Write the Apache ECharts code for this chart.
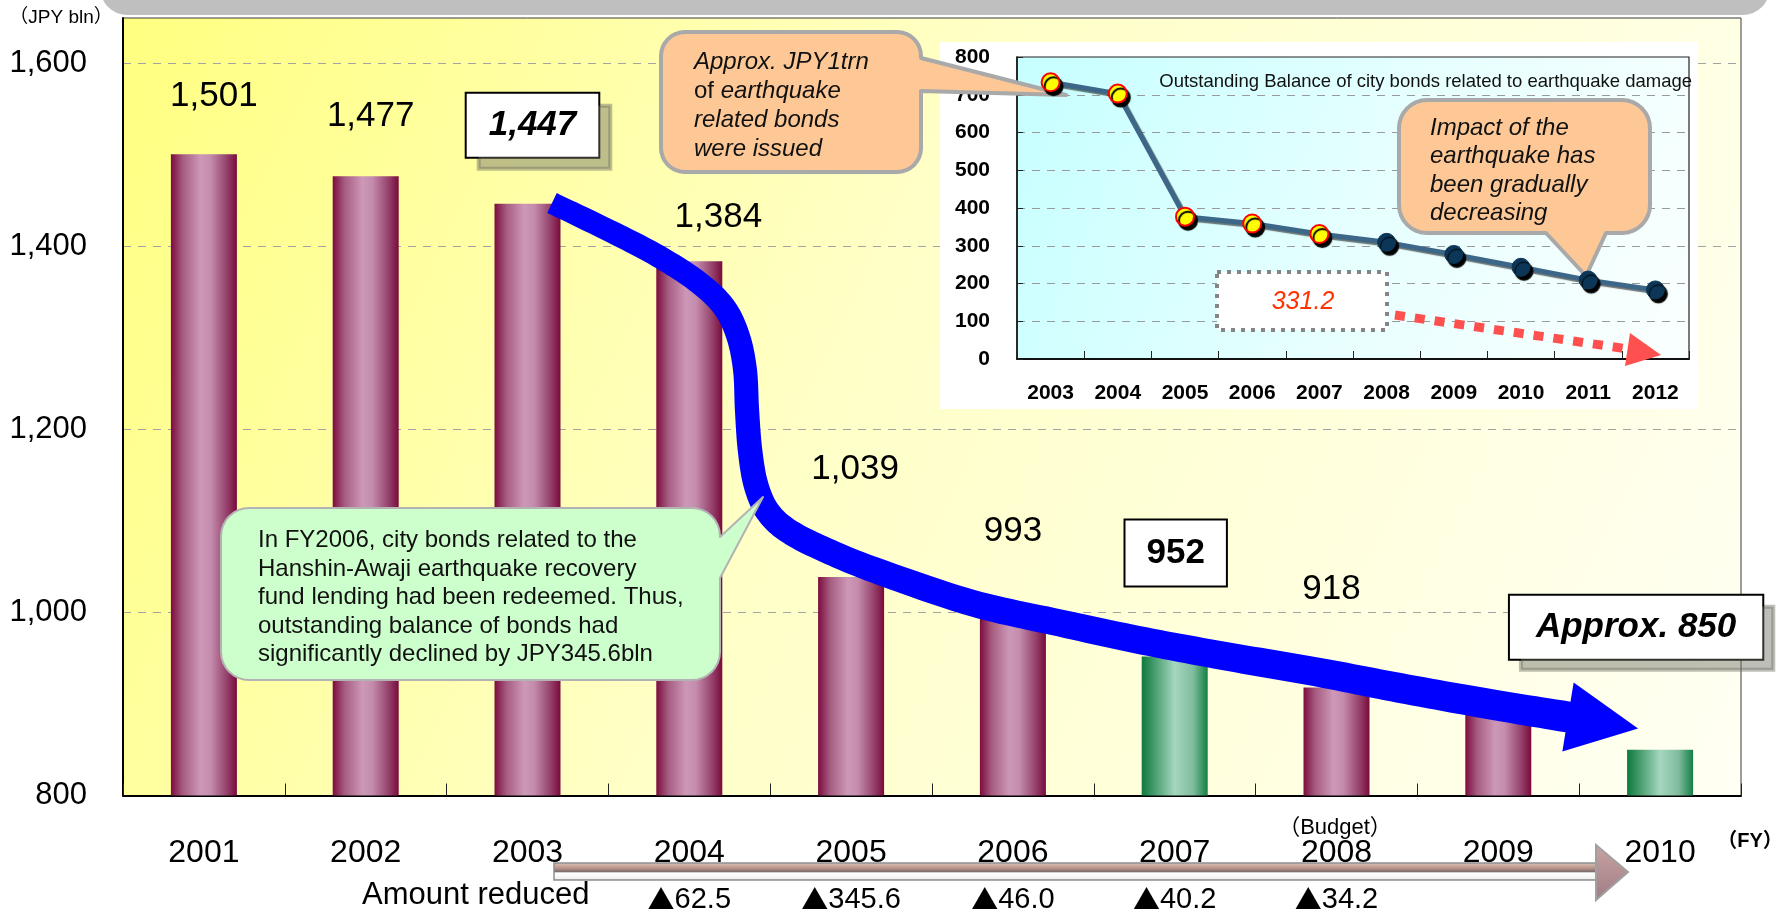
<!DOCTYPE html>
<html>
<head>
<meta charset="utf-8">
<script src="https://cdn.jsdelivr.net/npm/echarts@6/dist/echarts.min.js"></script>
<style>
  html, body { margin: 0; padding: 0; background: #ffffff; }
  #chart { width: 1787px; height: 914px; }
</style>
</head>
<body>
<div id="chart"></div>
<script>
// ---- Data: outstanding balance of city bonds (JPY bln) ----
const years = ['2001', '2002', '2003', '2004', '2005', '2006', '2007', '2008', '2009', '2010'];
const balance = [1501, 1477, 1447, 1384, 1039, 993, 952, 918, 898, 850];
const budgetYears = ['2007', '2010'];          // drawn as green bars
const unlabeledYears = ['2009'];
const reduced = [null, null, null, 62.5, 345.6, 46.0, 40.2, 34.2, null, null];

// ---- Data: outstanding balance of city bonds related to earthquake damage ----
const quakeYears = ['2003', '2004', '2005', '2006', '2007', '2008', '2009', '2010', '2011', '2012'];
const quakeBalance = [733, 703, 377, 359, 331.2, 309, 277, 243, 209, 183];
const quakeActualYears = ['2003', '2004', '2005', '2006', '2007'];   // yellow markers
const quakeNoteYear = '2007';

// ---- Layout / styling ----
const FONT = "'Liberation Sans', Arial, 'Noto Sans CJK JP', sans-serif";
const labelNudge = [[10, -38], [5, -40], [5, -47], [29, -24], [4, -88], [0, -68], [1, -71], [-5, -78], [0, 0], [-24, -91]];
const boxedLabels = { '2003': 'italic', '2007': 'plain', '2010': 'approx' };

const maroon = {
  type: 'linear', x: 0, y: 0, x2: 1, y2: 0,
  colorStops: [
    { offset: 0, color: '#7c0c3e' }, { offset: 0.18, color: '#a65c80' },
    { offset: 0.45, color: '#cd98b7' }, { offset: 0.6, color: '#c48cad' },
    { offset: 0.85, color: '#94406a' }, { offset: 1, color: '#790a3b' }
  ]
};
const green = {
  type: 'linear', x: 0, y: 0, x2: 1, y2: 0,
  colorStops: [
    { offset: 0, color: '#0c7a3d' }, { offset: 0.22, color: '#4fa174' },
    { offset: 0.5, color: '#a4d7bf' }, { offset: 0.78, color: '#7fbc9d' },
    { offset: 1, color: '#157f45' }
  ]
};

function fmt(v) { return v.toLocaleString('en-US'); }

function barLabel(i) {
  const y = years[i];
  if (unlabeledYears.includes(y)) return { show: false };
  const lab = {
    show: true, position: 'top', distance: 0, offset: labelNudge[i],
    fontFamily: FONT, fontSize: 35, lineHeight: 40, color: '#000',
    formatter: p => fmt(p.value)
  };
  const kind = boxedLabels[y];
  if (kind) {
    Object.assign(lab, {
      fontWeight: 'bold', lineHeight: 35, backgroundColor: '#ffffff',
      borderColor: '#000', borderWidth: 2
    });
    if (kind === 'plain') {
      lab.padding = [15, 21];
    } else {
      lab.fontStyle = 'italic';
      lab.padding = [14, 22];
      lab.shadowColor = 'rgba(110,110,100,0.45)';
      lab.shadowOffsetX = 12;
      lab.shadowOffsetY = 12;
      lab.shadowBlur = 0;
    }
    if (kind === 'approx') {
      lab.padding = [14, 26];
      lab.shadowOffsetX = 11;
      lab.shadowOffsetY = 11;
      lab.formatter = p => 'Approx. ' + fmt(p.value);
    }
  }
  return lab;
}

// Rounded speech bubble outline as a polygon
function bubble(x, y, w, h, r, tail) {
  const pts = [];
  const arc = (cx, cy, a0, a1) => {
    for (let k = 0; k <= 8; k++) {
      const a = a0 + (a1 - a0) * k / 8;
      pts.push([cx + r * Math.cos(a), cy + r * Math.sin(a)]);
    }
  };
  const H = Math.PI / 2;
  arc(x + r, y + r, Math.PI, 3 * H);
  arc(x + w - r, y + r, -H, 0);
  if (tail.side === 'right') pts.push([x + w, tail.a], tail.tip, [x + w, tail.b]);
  arc(x + w - r, y + h - r, 0, H);
  if (tail.side === 'bottom') pts.push([tail.b, y + h], tail.tip, [tail.a, y + h]);
  arc(x + r, y + h - r, H, Math.PI);
  return pts;
}

// Thick curved arrow (centerline through control points, widening toward the head)
function thickArrow(ctrl, w0, w1, headLen, headHalf) {
  const s = [];
  for (let i = 0; i < ctrl.length - 1; i++) {
    const p0 = ctrl[Math.max(i - 1, 0)], p1 = ctrl[i], p2 = ctrl[i + 1], p3 = ctrl[Math.min(i + 2, ctrl.length - 1)];
    for (let k = 0; k < 12; k++) {
      const t = k / 12, t2 = t * t, t3 = t2 * t;
      const f = (a, b, c, d) => 0.5 * (2 * b + (-a + c) * t + (2 * a - 5 * b + 4 * c - d) * t2 + (-a + 3 * b - 3 * c + d) * t3);
      s.push([f(p0[0], p1[0], p2[0], p3[0]), f(p0[1], p1[1], p2[1], p3[1])]);
    }
  }
  s.push(ctrl[ctrl.length - 1]);
  const n = s.length, len = [0];
  for (let i = 1; i < n; i++) len.push(len[i - 1] + Math.hypot(s[i][0] - s[i - 1][0], s[i][1] - s[i - 1][1]));
  const total = len[n - 1];
  const up = [], down = [];
  let dir = [1, 0];
  for (let i = 0; i < n; i++) {
    const a = s[Math.max(i - 1, 0)], b = s[Math.min(i + 1, n - 1)];
    let dx = b[0] - a[0], dy = b[1] - a[1];
    const L = Math.hypot(dx, dy) || 1; dx /= L; dy /= L;
    dir = [dx, dy];
    const hw = (w0 + (w1 - w0) * len[i] / total) / 2;
    up.push([s[i][0] + dy * hw, s[i][1] - dx * hw]);
    down.push([s[i][0] - dy * hw, s[i][1] + dx * hw]);
  }
  const e = s[n - 1];
  const head = [
    [e[0] + dir[1] * headHalf, e[1] - dir[0] * headHalf],
    [e[0] + dir[0] * headLen, e[1] + dir[1] * headLen],
    [e[0] - dir[1] * headHalf, e[1] + dir[0] * headHalf]
  ];
  return up.concat(head, down.reverse());
}

const trendPath = [
  [552, 203], [610, 231], [658, 256], [698, 282], [724, 307], [738, 336], [745, 370],
  [747, 410], [750, 450], [756, 485], [768, 512], [790, 532], [830, 552], [880, 572],
  [972, 603], [1060, 623], [1144, 641], [1230, 657], [1317, 672], [1400, 688],
  [1489, 704], [1568, 717]
];

const noteIdx = quakeYears.indexOf(quakeNoteYear);

const graphics = [
  // header band
  { type: 'rect', z: -1, shape: { x: 100, y: -40, width: 1670, height: 55, r: 30 }, style: { fill: '#bfbfbf' } },
  // inset panel backdrop
  { type: 'rect', z: 1, shape: { x: 940, y: 42, width: 758, height: 367 }, style: { fill: '#ffffff' } },

  // unit label and axis notes
  { type: 'text', z: 5, x: 61, y: 18, style: { text: '（JPY bln）', font: "19px " + FONT, fill: '#000', textAlign: 'center', textVerticalAlign: 'middle' } },
  { type: 'text', z: 5, x: 1335, y: 828, style: { text: '（Budget）', font: "22px " + FONT, fill: '#000', textAlign: 'center', textVerticalAlign: 'middle' } },
  { type: 'text', z: 5, x: 1750, y: 841, style: { text: '（FY）', font: "bold 20px " + FONT, fill: '#000', textAlign: 'center', textVerticalAlign: 'middle' } },
  { type: 'text', z: 11, x: 362, y: 895, style: { text: 'Amount reduced', font: "31px " + FONT, fill: '#000', textAlign: 'left', textVerticalAlign: 'middle' } },

  // inset title
  { type: 'text', z: 2.6, x: 1692, y: 82, style: { text: 'Outstanding Balance of city bonds related to earthquake damage', font: "18.5px " + FONT, fill: '#111', textAlign: 'right', textVerticalAlign: 'middle' } },

  // callout: bonds issued
  { type: 'polygon', z: 2.6, shape: { points: bubble(661, 32, 260, 140, 24, { side: 'right', a: 58, b: 91, tip: [1066, 95] }) },
    style: { fill: '#fdc896', stroke: '#a9a9a9', lineWidth: 4, lineJoin: 'round' } },
  { type: 'text', z: 2.7, x: 694, y: 48, style: {
      text: '{i|Approx. JPY1trn}\n{n|of} {i|earthquake}\n{i|related bonds}\n{i|were issued}',
      font: "italic 24px " + FONT, lineHeight: 29, fill: '#111', textAlign: 'left', textVerticalAlign: 'top',
      rich: { i: { font: "italic 24px " + FONT, lineHeight: 29 }, n: { font: "24px " + FONT, lineHeight: 29 } } } },

  // callout: gradual decrease
  { type: 'polygon', z: 2.6, shape: { points: bubble(1399, 100, 251, 133, 28, { side: 'bottom', a: 1546, b: 1606, tip: [1586, 276] }) },
    style: { fill: '#fdc896', stroke: '#a9a9a9', lineWidth: 4, lineJoin: 'round' } },
  { type: 'text', z: 2.7, x: 1430, y: 114, style: {
      text: 'Impact of the\nearthquake has\nbeen gradually\ndecreasing',
      font: "italic 24px " + FONT, lineHeight: 28.5, fill: '#111', textAlign: 'left', textVerticalAlign: 'top' } },

  // dashed note box with reduction arrow
  { type: 'rect', z: 2.5, shape: { x: 1217, y: 272, width: 170, height: 58 },
    style: { fill: '#ffffff', stroke: '#858585', lineWidth: 4, lineDash: [4, 6] } },
  { type: 'text', z: 2.6, x: 1303, y: 302, style: { text: String(quakeBalance[noteIdx]), font: "italic 25px " + FONT, fill: '#ff3300', textAlign: 'center', textVerticalAlign: 'middle' } },
  { type: 'line', z: 2.5, shape: { x1: 1395, y1: 315, x2: 1628, y2: 349 },
    style: { stroke: '#ff5050', lineWidth: 9, lineDash: [10, 10] } },
  { type: 'polygon', z: 2.5, shape: { points: [[1630, 333], [1661, 355], [1625, 366]] }, style: { fill: '#ff5050' } },

  // big trend arrow
  { type: 'polygon', z: 10, shape: { points: thickArrow(trendPath, 22, 31, 71, 35) }, style: { fill: '#0000ff' } },

  // callout: FY2006 redemption
  { type: 'polygon', z: 12, shape: { points: bubble(221, 508, 499, 172, 28, { side: 'right', a: 537, b: 578, tip: [763, 497] }) },
    style: { fill: '#ccffcc', stroke: '#b3b3b3', lineWidth: 2, lineJoin: 'round' } },
  { type: 'text', z: 13, x: 258, y: 526, style: {
      text: 'In FY2006, city bonds related to the\nHanshin-Awaji earthquake recovery\nfund lending had been redeemed. Thus,\noutstanding balance of bonds had\nsignificantly declined by JPY345.6bln',
      font: "24px " + FONT, lineHeight: 28.6, fill: '#111', textAlign: 'left', textVerticalAlign: 'top' } },

  // timeline arrow under the year axis
  { type: 'rect', z: 10, shape: { x: 554, y: 863, width: 1042, height: 17 },
    style: {
      fill: { type: 'linear', x: 0, y: 0, x2: 0, y2: 1, colorStops: [
        { offset: 0, color: '#e2c8bc' }, { offset: 0.35, color: '#b48e86' },
        { offset: 0.5, color: '#7e6e6e' }, { offset: 0.58, color: '#ffffff' },
        { offset: 0.9, color: '#f2f2f2' }, { offset: 1, color: '#8a8a8a' } ] },
      stroke: '#8e8e8e', lineWidth: 1.5 } },
  { type: 'polygon', z: 10, shape: { points: [[1596, 845], [1628, 872], [1596, 900]] },
    style: {
      fill: { type: 'linear', x: 0, y: 0, x2: 0, y2: 1, colorStops: [
        { offset: 0, color: '#c9a3a3' }, { offset: 1, color: '#a07c84' } ] },
      stroke: '#a0a0a0', lineWidth: 2, lineJoin: 'miter' } }
];

const option = {
  animation: false,
  backgroundColor: '#ffffff',
  grid: [
    {
      left: 123, right: 46, top: 18, bottom: 117, show: true, z: 0,
      backgroundColor: { type: 'linear', x: 0, y: 0, x2: 1, y2: 1, colorStops: [
        { offset: 0, color: '#ffff80' }, { offset: 0.45, color: '#ffffc8' }, { offset: 1, color: '#fffff4' } ] },
      borderColor: '#3a3a3a', borderWidth: 1
    },
    {
      left: 1017, right: 98, top: 57, bottom: 555, show: true, z: 2,
      backgroundColor: { type: 'linear', x: 0, y: 0, x2: 1, y2: 1, colorStops: [
        { offset: 0, color: '#c6ffff' }, { offset: 0.55, color: '#e8ffff' }, { offset: 1, color: '#fafffe' } ] },
      borderColor: '#222', borderWidth: 1.2
    }
  ],
  xAxis: [
    {
      type: 'category', gridIndex: 0, data: years, boundaryGap: true, position: 'bottom',
      axisLine: { show: true, onZero: false, lineStyle: { color: '#000', width: 2 } },
      axisTick: { show: true, inside: true, length: 12, lineStyle: { color: '#222', width: 1 } },
      axisLabel: { interval: 0, fontFamily: FONT, fontSize: 32, lineHeight: 36, color: '#000', margin: 40 }
    },
    {
      type: 'category', gridIndex: 0, position: 'bottom', boundaryGap: true,
      data: reduced.map(v => v == null ? '' : v.toFixed(1)),
      axisLine: { show: false }, axisTick: { show: false }, splitLine: { show: false },
      axisLabel: {
        interval: 0, color: '#000', margin: 89,
        formatter: s => s ? '{t|▲}{n|' + s + '}' : '',
        rich: {
          t: { fontFamily: "'Noto Sans CJK JP', sans-serif", fontSize: 27, lineHeight: 30, color: '#000' },
          n: { fontFamily: FONT, fontSize: 29, lineHeight: 30, color: '#000' }
        }
      }
    },
    {
      type: 'category', gridIndex: 1, data: quakeYears, boundaryGap: true, z: 2,
      axisLine: { show: true, onZero: false, lineStyle: { color: '#111', width: 2 } },
      axisTick: { show: true, inside: true, length: 8, lineStyle: { color: '#222', width: 1 } },
      axisLabel: { interval: 0, fontFamily: FONT, fontWeight: 'bold', fontSize: 21, lineHeight: 22, color: '#000', margin: 23 }
    }
  ],
  yAxis: [
    {
      type: 'value', gridIndex: 0, min: 800, max: 1650, interval: 200,
      axisLine: { show: true, lineStyle: { color: '#000', width: 2 } },
      axisTick: { show: false },
      axisLabel: { fontFamily: FONT, fontSize: 31, color: '#000', margin: 36, showMaxLabel: false, formatter: v => fmt(v) },
      splitLine: { show: true, showMinLine: false, showMaxLine: false, lineStyle: { color: '#a3a3a3', width: 1.2, type: [8, 7] } }
    },
    {
      type: 'value', gridIndex: 1, min: 0, max: 800, interval: 100, z: 2,
      axisLine: { show: true, lineStyle: { color: '#111', width: 1.5 } },
      axisTick: { show: true, inside: true, length: 6, lineStyle: { color: '#222' } },
      axisLabel: { fontFamily: FONT, fontWeight: 'bold', fontSize: 21, color: '#000', margin: 27 },
      splitLine: { show: true, showMinLine: false, showMaxLine: false, lineStyle: { color: '#9a9a9a', width: 1.2, type: [8, 7] } }
    }
  ],
  series: [
    {
      type: 'bar', xAxisIndex: 0, yAxisIndex: 0, barWidth: 66, z: 2,
      data: balance.map((v, i) => ({
        value: v,
        itemStyle: { color: budgetYears.includes(years[i]) ? green : maroon },
        label: barLabel(i)
      })),
      emphasis: { disabled: true }
    },
    {
      type: 'line', xAxisIndex: 2, yAxisIndex: 1, z: 3,
      symbol: 'circle', symbolSize: 18,
      lineStyle: { color: '#3d6788', width: 5, shadowColor: 'rgba(0,0,0,0.55)', shadowOffsetX: 2, shadowOffsetY: 2, shadowBlur: 1 },
      data: quakeBalance.map((v, i) => ({
        value: v,
        itemStyle: quakeActualYears.includes(quakeYears[i])
          ? { color: '#ffff00', borderColor: '#ff0000', borderWidth: 2, shadowColor: '#000', shadowOffsetX: 3, shadowOffsetY: 4, shadowBlur: 1 }
          : { color: '#0c3657', borderColor: '#0c3657', borderWidth: 1, shadowColor: '#000', shadowOffsetX: 3, shadowOffsetY: 4, shadowBlur: 1 }
      })),
      emphasis: { disabled: true }
    }
  ],
  graphic: { elements: graphics }
};

const chart = echarts.init(document.getElementById('chart'), null, { renderer: 'canvas' });
chart.setOption(option);
</script>
</body>
</html>
